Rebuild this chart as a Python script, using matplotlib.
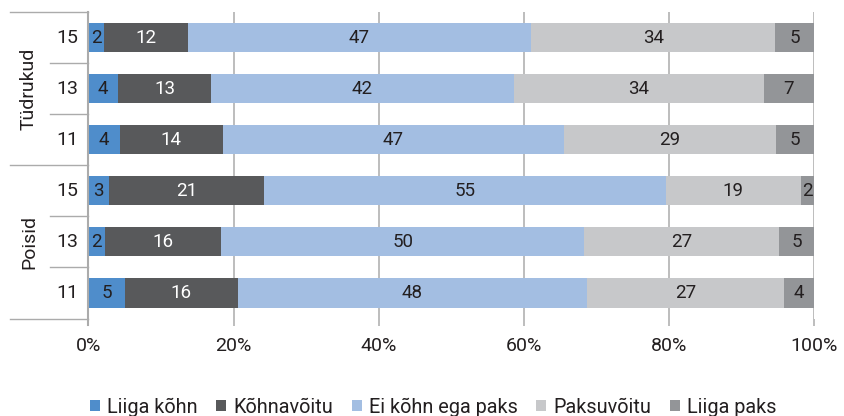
import matplotlib
matplotlib.use("Agg")
import matplotlib.pyplot as plt
import numpy as np

# --- data (rows listed top to bottom) ---
groups = ["Tüdrukud", "Poisid"]
ages = ["15", "13", "11", "15", "13", "11"]
categories = ["Liiga kõhn", "Kõhnavõitu", "Ei kõhn ega paks", "Paksuvõitu", "Liiga paks"]

liiga_kohn = [2.1, 4.1, 4.3, 2.8, 2.3, 5.0]
kohnavoitu = [11.6, 12.8, 14.2, 21.4, 16.0, 15.6]
ei_kohn_ega_paks = [47.3, 41.7, 47.0, 55.3, 50.0, 48.1]
paksuvoitu = [33.6, 34.4, 29.2, 18.6, 26.8, 27.1]
liiga_paks = [5.4, 7.0, 5.3, 1.9, 4.9, 4.2]

series = [liiga_kohn, kohnavoitu, ei_kohn_ega_paks, paksuvoitu, liiga_paks]
colors = ["#4f8dcb", "#58595b", "#a3bee2", "#c7c8ca", "#939598"]
text_colors = ["#231f20", "white", "#231f20", "#231f20", "#231f20"]

plt.rcParams.update({
    "font.family": ["Roboto", "DejaVu Sans"],
    "font.size": 13.5,
})
GRID = "#ababab"
TXT = "#231f20"

fig = plt.figure(figsize=(8.44, 4.16), dpi=100)
ax = fig.add_axes([88.4 / 844, 1 - 318.5 / 416, 726 / 844, 306.5 / 416])

y = np.arange(len(ages))
left = np.zeros(len(ages))
for vals, col, tcol, name in zip(series, colors, text_colors, categories):
    vals = np.array(vals)
    ax.barh(y, vals, left=left, height=0.57, color=col, label=name, zorder=2)
    for yi, l, v in zip(y, left, vals):
        ax.text(l + v / 2, yi, f"{round(v)}", ha="center", va="center",
                color=tcol, fontsize=13.5, zorder=3)
    left += vals

ax.set_xlim(0, 100)
ax.set_ylim(5.5, -0.5)
ax.set_xticks(np.arange(0, 101, 20))
ax.set_xticklabels([f"{t}%" for t in range(0, 101, 20)], color=TXT, fontsize=14)
ax.set_yticks([])
ax.grid(axis="x", color=GRID, linewidth=1.1, zorder=0)
ax.tick_params(axis="x", length=5, width=1.1, color=GRID, pad=8)
for s in ["top", "right", "bottom", "left"]:
    ax.spines[s].set_visible(False)

tr = ax.get_yaxis_transform()
# left axis line, extending a little below the plot
ax.plot([0, 0], [-0.5, 5.62], transform=tr, color=GRID, linewidth=1.5, clip_on=False, zorder=4)

# category separators
x_long = (10 - 88.4) / 726
x_short = (50 - 88.4) / 726
for b in [-0.5, 2.5, 5.5]:
    ax.plot([x_long, 0], [b, b], transform=tr, color=GRID, linewidth=1.0, clip_on=False)
for b in [0.5, 1.5, 3.5, 4.5]:
    ax.plot([x_short, 0], [b, b], transform=tr, color=GRID, linewidth=1.0, clip_on=False)

# age labels and group labels
for yi, a in zip(y, ages):
    ax.text((78 - 88.4) / 726, yi, a, transform=tr, ha="right", va="center",
            color=TXT, fontsize=14)
for g, yc in zip(groups, [1.0, 4.0]):
    ax.text((29 - 88.4) / 726, yc, g, transform=tr, ha="center", va="center",
            rotation=90, color=TXT, fontsize=14)

fig.legend(loc="center", bbox_to_anchor=(433 / 844, 1 - 407 / 416), ncol=5,
           frameon=False, fontsize=14.3, handlelength=0.5, handleheight=0.5,
           handletextpad=0.35, columnspacing=0.95, labelcolor=TXT)

fig.savefig("out.png", dpi=100)
